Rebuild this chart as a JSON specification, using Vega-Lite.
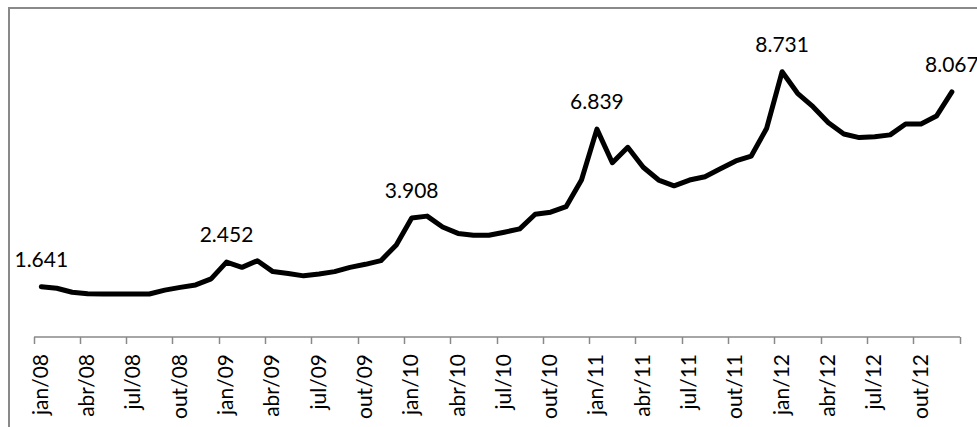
{
  "$schema": "https://vega.github.io/schema/vega-lite/v6.json",
  "width": 975,
  "height": 424,
  "autosize": {"type": "none"},
  "padding": {"left": 9, "top": 8, "right": 0, "bottom": 0},
  "background": "white",
  "config": {
    "view": {"stroke": "#898989", "strokeWidth": 2},
    "locale": {"number": {"decimal": ",", "thousands": ".", "grouping": [3], "currency": ["R$", ""]}},
    "font": "Lato"
  },
  "data": {"values": [
    {"mes": "jan/08", "valor": 1641}, {"mes": "fev/08", "valor": 1590}, {"mes": "mar/08", "valor": 1460},
    {"mes": "abr/08", "valor": 1410}, {"mes": "mai/08", "valor": 1400}, {"mes": "jun/08", "valor": 1400},
    {"mes": "jul/08", "valor": 1400}, {"mes": "ago/08", "valor": 1400}, {"mes": "set/08", "valor": 1530},
    {"mes": "out/08", "valor": 1620}, {"mes": "nov/08", "valor": 1700}, {"mes": "dez/08", "valor": 1900},
    {"mes": "jan/09", "valor": 2452}, {"mes": "fev/09", "valor": 2280}, {"mes": "mar/09", "valor": 2500},
    {"mes": "abr/09", "valor": 2140}, {"mes": "mai/09", "valor": 2080}, {"mes": "jun/09", "valor": 2000},
    {"mes": "jul/09", "valor": 2060}, {"mes": "ago/09", "valor": 2140}, {"mes": "set/09", "valor": 2280},
    {"mes": "out/09", "valor": 2380}, {"mes": "nov/09", "valor": 2500}, {"mes": "dez/09", "valor": 3020},
    {"mes": "jan/10", "valor": 3908}, {"mes": "fev/10", "valor": 3970}, {"mes": "mar/10", "valor": 3610},
    {"mes": "abr/10", "valor": 3400}, {"mes": "mai/10", "valor": 3340}, {"mes": "jun/10", "valor": 3340},
    {"mes": "jul/10", "valor": 3440}, {"mes": "ago/10", "valor": 3550}, {"mes": "set/10", "valor": 4030},
    {"mes": "out/10", "valor": 4100}, {"mes": "nov/10", "valor": 4280}, {"mes": "dez/10", "valor": 5160},
    {"mes": "jan/11", "valor": 6839}, {"mes": "fev/11", "valor": 5730}, {"mes": "mar/11", "valor": 6240},
    {"mes": "abr/11", "valor": 5580}, {"mes": "mai/11", "valor": 5160}, {"mes": "jun/11", "valor": 4970},
    {"mes": "jul/11", "valor": 5160}, {"mes": "ago/11", "valor": 5270}, {"mes": "set/11", "valor": 5530},
    {"mes": "out/11", "valor": 5790}, {"mes": "nov/11", "valor": 5950}, {"mes": "dez/11", "valor": 6870},
    {"mes": "jan/12", "valor": 8731}, {"mes": "fev/12", "valor": 8020}, {"mes": "mar/12", "valor": 7580},
    {"mes": "abr/12", "valor": 7050}, {"mes": "mai/12", "valor": 6680}, {"mes": "jun/12", "valor": 6560},
    {"mes": "jul/12", "valor": 6590}, {"mes": "ago/12", "valor": 6650}, {"mes": "set/12", "valor": 7010},
    {"mes": "out/12", "valor": 7010}, {"mes": "nov/12", "valor": 7270}, {"mes": "dez/12", "valor": 8067}
  ]},
  "encoding": {
    "y": {"field": "valor", "type": "quantitative", "scale": {"domain": [-3150, 10834], "nice": false, "zero": false}, "axis": null}
  },
  "resolve": {"axis": {"x": "independent"}},
  "layer": [
    {
      "mark": {"type": "line", "color": "black", "strokeWidth": 5, "strokeJoin": "round", "strokeCap": "round"},
      "encoding": {
        "x": {
          "field": "mes", "type": "ordinal", "sort": null,
          "scale": {"type": "band", "range": [24.6, 950.6], "paddingInner": 0, "paddingOuter": 0},
          "axis": {
            "title": null, "orient": "bottom",
            "values": ["jan/08","abr/08","jul/08","out/08","jan/09","abr/09","jul/09","out/09","jan/10","abr/10","jul/10","out/10","jan/11","abr/11","jul/11","out/11","jan/12","abr/12","jul/12","out/12"],
            "labelAngle": -90, "tickOffset": -7.72, "labelOffset": 7.72, "offset": -95.5,
            "domainColor": "#898989", "tickColor": "#898989", "domainWidth": 1.5, "tickWidth": 1.5,
            "tickSize": 7, "labelFontSize": 21, "labelFont": "Lato", "labelColor": "black", "labelPadding": 10
          }
        }
      }
    },
    {
      "transform": [{"filter": {"field": "mes", "oneOf": ["jan/08", "jan/09", "jan/10", "jan/11", "jan/12", "dez/12"]}}],
      "mark": {"type": "text", "fontSize": 21, "dy": -20, "baseline": "alphabetic", "color": "black"},
      "encoding": {
        "x": {
          "field": "mes", "type": "ordinal", "sort": null,
          "axis": {
            "title": null, "orient": "bottom", "values": ["dez/12"], "labels": false, "domain": false,
            "tickOffset": 7.72, "offset": -95.5,
            "tickColor": "#898989", "tickWidth": 1.5, "tickSize": 7
          }
        },
        "text": {"field": "valor", "type": "quantitative", "format": ",d"}
      }
    }
  ]
}
